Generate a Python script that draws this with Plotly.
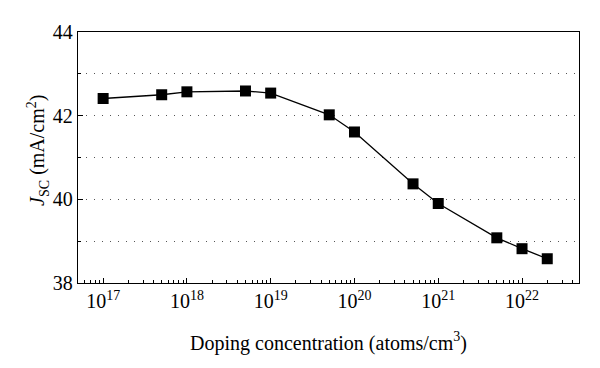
import plotly.graph_objects as go

doping = [1e17, 5e17, 1e18, 5e18, 1e19, 5e19, 1e20, 5e20, 1e21, 5e21, 1e22, 2e22]
jsc = [42.41, 42.50, 42.57, 42.59, 42.54, 42.02, 41.61, 40.37, 39.90, 39.08, 38.82, 38.58]

major_x = [1e17, 1e18, 1e19, 1e20, 1e21, 1e22]
major_x_text = ["10<sup>17</sup>", "10<sup>18</sup>", "10<sup>19</sup>",
                "10<sup>20</sup>", "10<sup>21</sup>", "10<sup>22</sup>"]
minor_x = [m * 10.0 ** e for e in range(16, 23) for m in range(2, 10)]
y_ticks = [38, 40, 42, 44]
y_minor = [39, 41, 43]

x_title = "Doping concentration (atoms/cm<sup>3</sup>)"
y_title = "<i>J</i><sub>SC</sub> (mA/cm<sup>2</sup>)"

FONT = "Liberation Serif"
FS = 20

fig = go.Figure()
fig.add_trace(go.Scatter(
    x=doping, y=jsc, mode="lines+markers",
    line=dict(color="black", width=1.3),
    marker=dict(symbol="square", size=11, color="black"),
    showlegend=False,
))

fig.update_layout(
    width=600, height=368,
    margin=dict(l=78, r=21, t=32, b=85),
    paper_bgcolor="white", plot_bgcolor="white",
    font=dict(family=FONT, size=FS, color="black"),
)

fig.add_annotation(
    text=y_title, textangle=-90, showarrow=False,
    xref="paper", yref="paper", x=-0.08, y=0.53,
    xanchor="center", yanchor="middle",
    font=dict(family=FONT, size=FS, color="black"),
)

fig.update_xaxes(
    type="log", range=[16.70, 22.68],
    tickmode="array", tickvals=major_x, ticktext=major_x_text,
    ticks="inside", ticklen=5, tickwidth=1, tickcolor="black",
    minor=dict(tickmode="array", tickvals=minor_x, ticks="inside", ticklen=3,
               tickwidth=1, tickcolor="black", showgrid=False),
    showgrid=False, zeroline=False,
    showline=True, linecolor="black", linewidth=1.3, mirror=True,
    title=dict(text=x_title, standoff=24, font=dict(family=FONT, size=FS)),
    tickfont=dict(family=FONT, size=FS),
)

fig.update_yaxes(
    range=[38, 44],
    tickmode="array", tickvals=y_ticks,
    ticks="inside", ticklen=5, tickwidth=1, tickcolor="black",
    showgrid=True, gridcolor="#555", gridwidth=1, griddash="1px,7px",
    minor=dict(tickmode="array", tickvals=y_minor, showgrid=True, gridcolor="#555",
               gridwidth=1, griddash="1px,7px", ticks="inside", ticklen=3,
               tickwidth=1, tickcolor="black"),
    zeroline=False,
    showline=True, linecolor="black", linewidth=1.3, mirror=True,
    tickfont=dict(family=FONT, size=FS),
)

fig.write_html("out.html", config={"displayModeBar": False},
               post_script="document.body.style.margin='0';")
